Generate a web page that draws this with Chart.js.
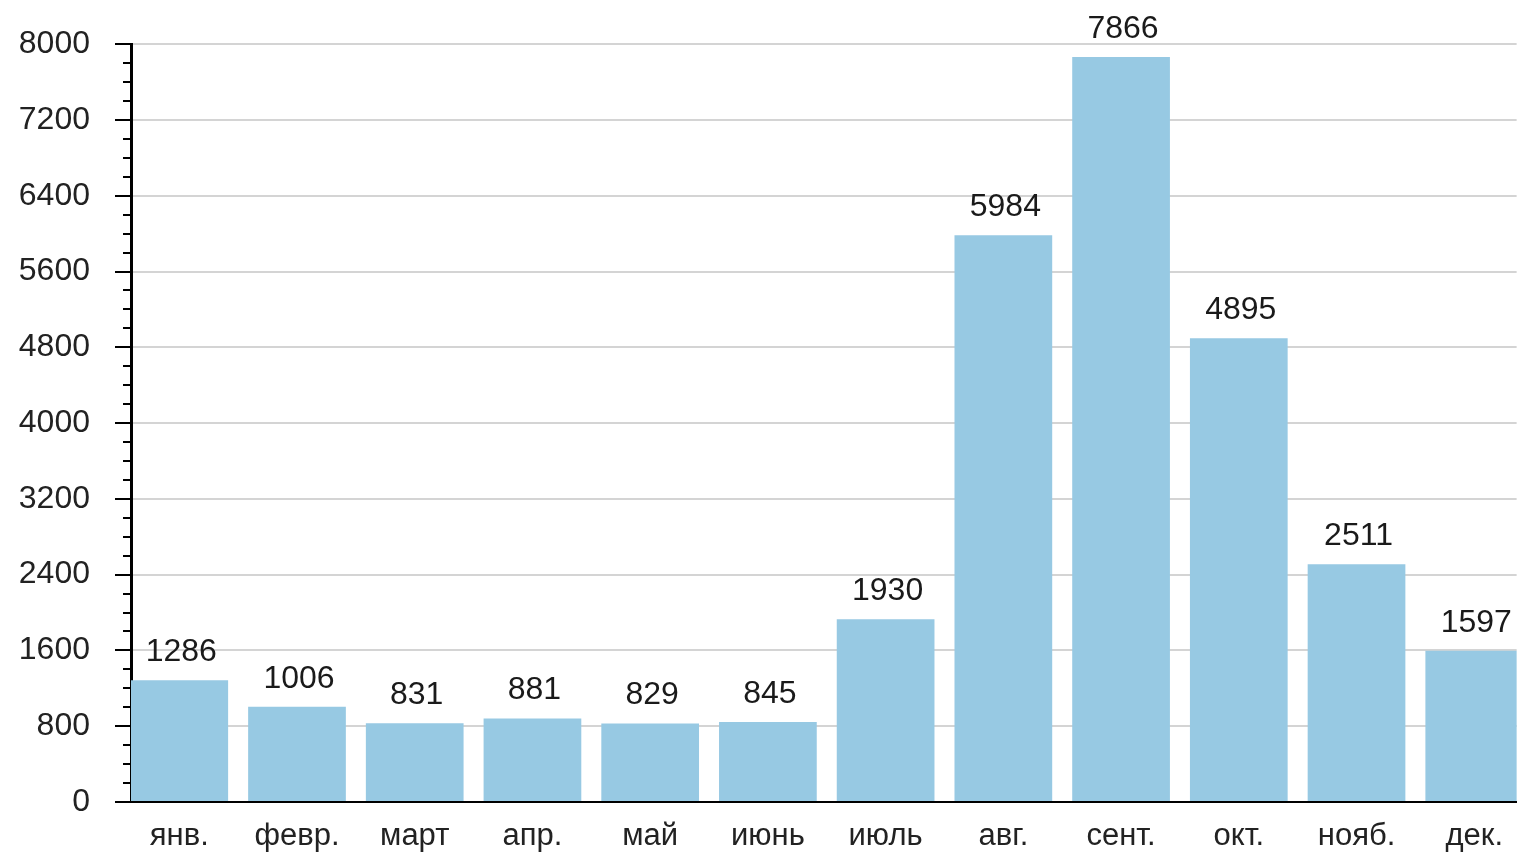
<!DOCTYPE html>
<html>
<head>
<meta charset="utf-8">
<script src="https://cdn.jsdelivr.net/npm/chart.js@4/dist/chart.umd.min.js"></script>
<style>
  html, body { margin: 0; padding: 0; background: #fff; }
  #wrap { width: 1519px; height: 853px; }
</style>
</head>
<body>
<div id="wrap"><canvas id="chart"></canvas></div>
<script>
'use strict';

// months (x categories)
const months = ['янв.', 'февр.', 'март', 'апр.', 'май', 'июнь', 'июль', 'авг.', 'сент.', 'окт.', 'нояб.', 'дек.'];
// values per month
const values = [1286, 1006, 831, 881, 829, 845, 1930, 5984, 7866, 4895, 2511, 1597];
// y axis
const yMax = 8000;
const yStep = 800;
const yMinorStep = 200;

const barColor = '#97c9e3';
const fontFamily = '"Liberation Sans", Arial, sans-serif';

// value labels above each bar
const valueLabels = {
    id: 'valueLabels',
    afterDatasetsDraw(chart) {
        const ctx = chart.ctx;
        const meta = chart.getDatasetMeta(0);
        ctx.save();
        ctx.font = '32px ' + fontFamily;
        ctx.fillStyle = '#1a1a1a';
        ctx.textAlign = 'center';
        ctx.textBaseline = 'bottom';
        meta.data.forEach((bar, i) => {
            ctx.fillText(String(values[i]), bar.x + 2, bar.y - 12);
        });
        ctx.restore();
    }
};

// short minor ticks on the y axis
const minorTicks = {
    id: 'minorTicks',
    afterDraw(chart) {
        const y = chart.scales.y;
        const ctx = chart.ctx;
        ctx.save();
        ctx.strokeStyle = '#000';
        ctx.lineWidth = 2;
        for (let v = yMinorStep; v < yMax; v += yMinorStep) {
            if (v % yStep === 0) continue;
            const py = Math.round(y.getPixelForValue(v));
            ctx.beginPath();
            ctx.moveTo(y.right - 8, py);
            ctx.lineTo(y.right, py);
            ctx.stroke();
        }
        ctx.restore();
    }
};

new Chart(document.getElementById('chart'), {
    type: 'bar',
    data: {
        datasets: [{
            data: values.map((v, i) => ({ x: i, y: v })),
            backgroundColor: barColor,
            borderWidth: 0,
            barPercentage: 1,
            categoryPercentage: 0.83
        }]
    },
    options: {
        responsive: true,
        maintainAspectRatio: false,
        animation: false,
        layout: { padding: { top: 43, left: 0, right: 0, bottom: 0 } },
        plugins: {
            legend: { display: false },
            tooltip: { enabled: false }
        },
        scales: {
            x: {
                type: 'linear',
                min: -0.41,
                max: 11.36,
                offset: false,
                afterBuildTicks: (s) => { s.ticks = months.map((m, i) => ({ value: i })); },
                afterFit: (s) => { s.height = 51; },
                grid: { display: false, offset: false, drawTicks: false },
                border: { display: true, color: '#000', width: 2 },
                ticks: {
                    autoSkip: false,
                    maxRotation: 0,
                    padding: 16,
                    color: '#222',
                    font: { size: 31, family: fontFamily },
                    callback: (v) => months[v]
                }
            },
            y: {
                min: 0,
                max: yMax,
                afterFit: (s) => { s.width = 131; },
                grid: {
                    color: '#d4d4d4',
                    lineWidth: 2,
                    tickColor: '#000',
                    tickLength: 16,
                    tickWidth: 2
                },
                border: { display: true, color: '#000', width: 3 },
                ticks: {
                    stepSize: yStep,
                    padding: 25,
                    color: '#222',
                    font: { size: 32, family: fontFamily },
                    callback: (v) => String(v)
                }
            }
        }
    },
    plugins: [valueLabels, minorTicks]
});
</script>
</body>
</html>
